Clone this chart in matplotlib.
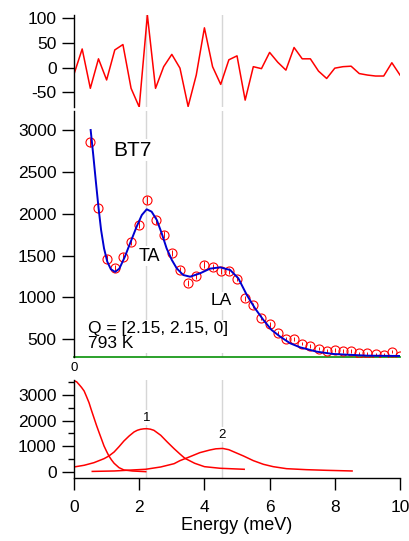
import matplotlib
matplotlib.use("Agg")
import matplotlib.pyplot as plt
from matplotlib.ticker import MultipleLocator

plt.rcParams["font.family"] = ["Liberation Sans", "DejaVu Sans"]
plt.rcParams["axes.unicode_minus"] = False

# measured points (BT7, Q = [2.15, 2.15, 0], 793 K)
energy = [0.5, 0.75, 1.0, 1.25, 1.5, 1.75, 2.0, 2.25, 2.5, 2.75, 3.0, 3.25, 3.5,
          3.75, 4.0, 4.25, 4.5, 4.75, 5.0, 5.25, 5.5, 5.75, 6.0, 6.25, 6.5, 6.75,
          7.0, 7.25, 7.5, 7.75, 8.0, 8.25, 8.5, 8.75, 9.0, 9.25, 9.5, 9.75, 10.0]
counts = [2854, 2068, 1464, 1349, 1488, 1663, 1869, 2163, 1920, 1747, 1532, 1325, 1175,
          1254, 1393, 1365, 1321, 1321, 1226, 988, 908, 758, 679, 571, 500, 500,
          449, 420, 389, 361, 373, 361, 361, 333, 333, 321, 313, 353, 301]
errors = [53, 45, 38, 37, 39, 41, 43, 47, 44, 42, 39, 36, 34,
          35, 37, 37, 36, 36, 35, 31, 30, 28, 26, 24, 22, 22,
          21, 20, 20, 19, 19, 19, 19, 18, 18, 18, 18, 19, 17]

# residuals (data - fit)
res_energy = [0.0, 0.25, 0.5, 0.75, 1.0, 1.25, 1.5, 1.75, 2.0, 2.25, 2.5, 2.75, 3.0,
              3.25, 3.5, 3.75, 4.0, 4.25, 4.5, 4.75, 5.0, 5.25, 5.5, 5.75, 6.0, 6.25,
              6.5, 6.75, 7.0, 7.25, 7.5, 7.75, 8.0, 8.25, 8.5, 8.75, 9.0, 9.25, 9.5,
              9.75, 10.0]
residual = [-13, 38, -42, 18, -25, 36, 47, -42, -80, 107, -42, 2, 27,
            -1, -79, -15, 81, 2, -34, 16, 24, -66, 2, -2, 31, 11,
            -5, 41, 18, 18, -7, -22, -1, 2, 3, -12, -15, -17, -17,
            10, -15]

# total fit curve
fit_x = [0.51, 0.59, 0.67, 0.75, 0.83, 0.92, 1.02, 1.13, 1.26, 1.39, 1.56, 1.72,
         1.92, 2.08, 2.23, 2.38, 2.54, 2.69, 2.84, 3.0, 3.15, 3.35, 3.56, 3.87,
         4.17, 4.48, 4.79, 5.04, 5.3, 5.55, 5.81, 6.06, 6.32, 6.63, 6.93, 7.44,
         7.95, 8.98, 10.0]
fit_y = [3000, 2701, 2383, 2077, 1806, 1587, 1428, 1337, 1305, 1344, 1487, 1647,
         1845, 1985, 2053, 2025, 1925, 1766, 1587, 1448, 1348, 1268, 1248, 1289,
         1344, 1360, 1328, 1229, 1030, 871, 731, 612, 533, 453, 405, 353,
         325, 305, 301]
background = 285

# fit components
peak0_x = [0.0, 0.08, 0.15, 0.23, 0.31, 0.38, 0.46, 0.53, 0.61, 0.69, 0.77, 0.85,
           0.92, 1.0, 1.07, 1.15, 1.23, 1.38, 1.53, 1.79, 2.2]
peak0_y = [3563, 3520, 3420, 3300, 3159, 2950, 2701, 2420, 2114, 1810, 1527, 1250,
           1006, 790, 614, 460, 328, 157, 67, 27, 0]
peak1_x = [0.0, 0.31, 0.61, 0.92, 1.07, 1.23, 1.38, 1.53, 1.69, 1.84, 1.94, 2.04,
           2.14, 2.23, 2.34, 2.45, 2.66, 2.86, 3.07, 3.25, 3.4, 3.7, 4.0, 4.48, 5.22]
peak1_y = [184, 250, 352, 509, 614, 771, 978, 1201, 1397, 1554, 1620, 1659,
           1678, 1683, 1665, 1620, 1425, 1162, 900, 690, 524, 329, 196, 133, 93]
peak2_x = [0.56, 1.23, 2.2, 2.66, 3.07, 3.25, 3.56, 3.86, 4.17, 4.35, 4.56, 4.75,
           4.89, 5.2, 5.5, 5.81, 6.11, 6.52, 7.13, 7.74, 8.53]
peak2_y = [10, 27, 94, 184, 313, 432, 588, 745, 849, 895, 910, 860,
           783, 613, 432, 288, 196, 117, 78, 53, 27]
peak_labels = ["0", "1", "2"]
peak_label_x = [0.0, 2.22, 4.54]
peak_label_y = [4060, 2120, 1440]

marker_lines = [2.22, 4.54]

RED = "#ff0000"
BLUE = "#0000d0"
GREEN = "#1a9a1a"
GRID = "#d6d6d6"
TICK_FS = 12.5

fig = plt.figure(figsize=(4.09, 5.41), dpi=100)
left, width = 0.181, 0.797
ax_res = fig.add_axes([left, 0.8022, width, 0.170])
ax_dat = fig.add_axes([left, 0.3392, width, 0.4556])
ax_pk = fig.add_axes([left, 0.1165, width, 0.1811])

for ax in (ax_res, ax_dat, ax_pk):
    ax.set_xlim(0, 10)
    for s in ("top", "right"):
        ax.spines[s].set_visible(False)
    ax.spines["left"].set_linewidth(1.0)
    ax.tick_params(axis="y", direction="out", length=8.5, width=1.0,
                   labelsize=TICK_FS, pad=4)
    for xv in marker_lines:
        ax.axvline(xv, color=GRID, lw=1.0, zorder=0)

box = dict(facecolor="white", edgecolor="none", pad=1.0)

# residuals
ax_res.plot(res_energy, residual, color=RED, lw=1.1)
ax_res.set_ylim(-80, 107)
ax_res.set_yticks([-50, 0, 50, 100])
ax_res.spines["bottom"].set_visible(False)
ax_res.set_xticks([])

# data + fit
ax_dat.errorbar(energy, counts, yerr=errors, fmt="o", ms=6.5, mfc="none",
                mec=RED, mew=0.8, ecolor=RED, elinewidth=0.7, capsize=0, zorder=3)
ax_dat.plot(fit_x, fit_y, color=BLUE, lw=1.4, zorder=4)
ax_dat.axhline(background, color=GREEN, lw=1.3, zorder=2, clip_on=False)
ax_dat.set_ylim(283, 3227)
ax_dat.set_yticks([500, 1000, 1500, 2000, 2500, 3000])
ax_dat.spines["bottom"].set_visible(False)
ax_dat.set_xticks([])
ax_dat.text(1.78, 2760, "BT7", fontsize=15, ha="center", va="center", bbox=box, zorder=2)
ax_dat.text(2.32, 1490, "TA", fontsize=13, ha="center", va="center", bbox=box, zorder=2)
ax_dat.text(4.52, 958, "LA", fontsize=12.5, ha="center", va="center", bbox=box, zorder=2)
ax_dat.text(0.43, 535, "Q = [2.15, 2.15, 0]\n793 K", fontsize=12.5, ha="left",
            va="center", linespacing=1.0, bbox=box, zorder=2)

# components
for px, py in ((peak0_x, peak0_y), (peak1_x, peak1_y), (peak2_x, peak2_y)):
    ax_pk.plot(px, py, color=RED, lw=1.1)
for lab, lx, ly in zip(peak_labels, peak_label_x, peak_label_y):
    ax_pk.text(lx, ly, lab, fontsize=9.5, ha="center", va="center", bbox=box,
               clip_on=False, zorder=2)
ax_pk.set_ylim(-247, 3590)
ax_pk.set_yticks([0, 1000, 2000, 3000])
ax_pk.yaxis.set_minor_locator(MultipleLocator(500))
ax_pk.tick_params(axis="y", which="minor", direction="out", length=4.5, width=1.0)
ax_pk.spines["bottom"].set_linewidth(1.0)
ax_pk.set_xticks([0, 2, 4, 6, 8, 10])
ax_pk.tick_params(axis="x", direction="out", length=8.5, width=1.0,
                  labelsize=TICK_FS, pad=7)
ax_pk.set_xlabel("Energy (meV)", fontsize=13, labelpad=2)

fig.savefig("out.png", dpi=100, facecolor="white")
